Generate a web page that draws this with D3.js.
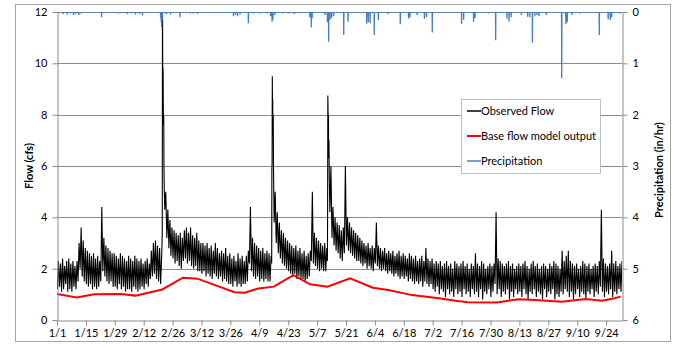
<!DOCTYPE html>
<html>
<head>
<meta charset="utf-8">
<script src="https://cdn.jsdelivr.net/npm/d3@7"></script>
<style>
  html, body { margin: 0; padding: 0; background: #fff; }
  svg { display: block; font-family: Lato, "Open Sans", "Liberation Sans", sans-serif; }
</style>
</head>
<body>
<svg id="chart" width="675" height="347"></svg>
<script>
// ---------------- DATA ----------------
const tickLabels = ["1/1","1/15","1/29","2/12","2/26","3/12","3/26","4/9","4/23","5/7","5/21","6/4","6/18","7/2","7/16","7/30","8/13","8/27","9/10","9/24"];
const flowTicks = [0, 2, 4, 6, 8, 10, 12];
const precipTicks = [0, 1, 2, 3, 4, 5, 6];
const seriesNames = ["Observed Flow", "Base flow model output", "Precipitation"];

// Observed flow: daily high / low of the diurnal cycle (cfs), day 0 = Jan 1
const obsHigh = [
  2.3,2.2,2.4,2.1,2.3,2.4,2.2,
  2.3,2.1,2.3,3.0,3.6,3.1,2.8,
  2.7,2.6,2.5,2.6,2.4,2.5,2.3,
  4.4,3.2,2.9,2.8,2.7,2.6,2.6,
  2.5,2.4,2.6,2.5,2.4,2.3,2.5,
  2.4,2.3,2.5,2.4,2.3,2.4,2.2,
  2.3,2.4,2.2,2.7,3.0,3.1,2.9,
  2.8,2.5,9.0,5.0,4.3,3.9,3.6,
  3.5,3.4,3.3,3.4,3.2,3.5,3.6,
  3.4,3.6,3.3,3.2,3.4,3.1,3.0,
  3.0,2.9,3.0,2.8,2.9,2.7,3.0,
  2.8,2.6,2.7,2.6,2.8,2.5,2.6,
  2.4,2.5,2.3,2.6,2.4,2.5,2.3,
  2.5,2.7,4.4,3.2,3.0,2.9,2.8,
  2.7,2.8,2.6,2.7,2.6,2.5,9.0,
  5.0,4.2,3.8,3.5,3.4,3.2,3.1,
  3.0,2.9,2.8,2.9,2.7,2.8,2.6,
  2.7,2.5,2.6,2.7,5.0,3.4,3.2,
  3.1,3.0,2.9,3.0,2.8,8.0,6.0,
  4.4,4.0,3.8,3.7,3.5,3.6,6.0,
  4.0,3.8,3.6,3.5,3.4,3.3,3.2,
  3.1,3.0,2.9,3.0,2.8,2.9,2.8,
  3.8,2.9,2.8,2.7,2.8,2.6,2.7,
  2.6,2.7,2.5,2.6,2.7,2.5,2.6,
  2.5,2.4,2.6,2.5,2.4,2.5,2.3,
  2.4,2.5,2.3,2.8,2.4,2.3,2.4,
  2.2,2.3,2.2,2.3,2.1,2.2,2.3,
  2.1,2.2,2.0,2.3,2.2,2.1,2.2,
  2.3,2.1,2.2,2.0,2.2,2.1,2.6,
  2.2,2.1,2.3,2.2,2.0,2.1,2.2,
  2.1,2.2,4.2,2.4,2.3,2.2,2.1,
  2.2,2.3,2.1,2.2,2.0,2.1,2.2,
  2.1,2.2,2.3,2.1,2.0,2.2,2.3,
  2.1,2.2,2.0,2.1,2.2,2.1,2.0,
  2.2,2.1,2.3,2.2,2.1,2.0,2.7,
  2.3,2.5,2.7,2.3,2.2,2.1,2.2,
  2.0,2.1,2.3,2.2,2.1,2.2,2.0,
  2.1,2.2,2.1,2.3,4.3,2.4,2.2,
  2.1,2.2,2.7,2.2,2.3,2.1,2.2,
  2.3
];
const obsLow = [
  1.2,1.3,1.1,1.2,1.4,1.1,1.2,
  1.1,1.3,1.2,1.5,2.0,1.7,1.5,
  1.4,1.3,1.4,1.2,1.3,1.2,1.3,
  1.5,1.9,1.7,1.5,1.4,1.5,1.3,
  1.3,1.2,1.4,1.2,1.3,1.1,1.2,
  1.2,1.1,1.3,1.2,1.1,1.2,1.3,
  1.2,1.4,1.3,1.6,1.7,1.8,1.6,
  1.5,1.4,3.4,4.3,3.2,2.8,2.5,
  2.4,2.2,2.3,2.1,2.0,2.3,2.4,
  2.2,2.3,2.1,2.0,2.1,1.9,1.9,
  1.8,1.9,1.7,1.8,1.7,1.6,1.8,
  1.7,1.6,1.7,1.5,1.6,1.5,1.4,
  1.4,1.3,1.5,1.3,1.4,1.3,1.4,
  1.4,1.5,2.2,1.9,1.7,1.6,1.7,
  1.5,1.6,1.5,1.6,1.5,1.5,2.2,
  3.8,3.0,2.6,2.4,2.2,2.1,2.0,
  1.9,1.8,1.7,1.8,1.6,1.7,1.6,
  1.6,1.5,1.6,1.7,2.3,2.2,2.1,
  2.0,1.9,2.0,1.9,1.9,2.3,4.2,
  3.2,2.9,2.7,2.6,2.4,2.3,2.6,
  2.9,2.7,2.6,2.5,2.4,2.3,2.3,
  2.2,2.1,2.2,2.0,2.1,2.0,1.9,
  2.2,2.1,2.0,1.9,2.0,1.9,1.8,
  1.9,1.8,1.7,1.8,1.7,1.6,1.7,
  1.6,1.7,1.5,1.6,1.5,1.4,1.5,
  1.4,1.5,1.3,1.5,1.4,1.3,1.4,
  1.2,1.1,1.3,1.0,1.2,1.1,0.9,
  1.2,1.0,1.1,0.9,1.2,1.0,1.1,
  0.9,1.2,1.0,1.1,0.9,1.2,1.0,
  1.1,0.9,1.2,0.8,1.1,1.0,1.2,
  0.9,1.1,1.4,1.0,1.2,0.9,1.1,
  1.0,1.2,0.8,1.1,0.9,1.2,1.0,
  1.1,0.9,1.2,1.0,0.8,1.1,1.0,
  1.2,0.9,1.1,1.0,0.8,1.2,0.9,
  1.1,1.0,1.2,0.8,1.0,0.9,1.1,
  1.0,1.2,1.1,0.9,1.1,0.8,1.0,
  1.2,0.9,1.1,1.0,0.8,1.1,1.0,
  1.2,0.9,1.1,1.0,1.3,1.1,0.9,
  1.1,1.0,1.2,0.9,1.1,1.0,1.2,
  1.1
];
// Storm days: hourly readings that replace the daily high/low (day, cfs)
const stormDays = [51, 104, 131];
const stormPoints = [
  [51.00,3.4],[51.10,12.6],[51.20,10.0],[51.30,9.4],[51.40,9.8],[51.50,8.2],[51.60,7.6],[51.70,8.0],[51.82,6.0],[51.95,5.2],
  [104.00,2.2],[104.10,5.9],[104.20,6.1],[104.30,9.5],[104.40,8.2],[104.50,8.6],[104.60,7.2],[104.75,8.0],[104.90,5.8],
  [131.00,2.3],[131.10,4.5],[131.20,8.75],[131.30,8.2],[131.40,7.0],[131.50,8.0],[131.60,6.3],[131.75,7.0],[131.90,5.6]
];

// Base flow model output (day, cfs)
const baseDays =  [0, 9.5, 18, 31, 38, 51, 61, 68, 86, 91, 97.5, 105, 114.5, 122.6, 131, 142, 153, 160.5, 172, 185, 193, 199, 213, 223.5, 231.6, 244.5, 256, 264, 270, 273];
const baseFlow =  [1.01,0.88,1.0,1.01,0.95,1.19,1.65,1.61,1.08,1.06,1.23,1.30,1.75,1.39,1.30,1.62,1.26,1.17,0.97,0.85,0.75,0.69,0.68,0.81,0.78,0.71,0.82,0.75,0.85,0.91];

// Precipitation events (day, in/hr)
const precipDays = [3,5,6.5,8,9,10.6,11.5,21.6,29,30.5,34,36,38,40,41.4,50.2,50.5,50.7,51.0,53,55,59.6,64.5,66,68,85.5,86.5,87.5,88.7,92.7,95,98,101.7,103.5,104.2,104.6,105.5,109.6,112,115,117.7,122.5,123.2,123.6,129.8,131.0,131.6,132.2,133,134,138.9,141,150,150.8,151.7,153.7,155.7,160.5,166.3,170.3,171,174.5,178,179,181.8,196,197,201.8,202.5,209,212.5,218,219,220,225,228,229,230.3,231.5,232.5,233.5,237,244.5,246.5,247.2,249.5,253.5,262.7,267,268,268.7,272.5];
const precipVals = [0.04,0.05,0.03,0.06,0.04,0.06,0.03,0.1,0.03,0.03,0.04,0.03,0.05,0.04,0.07,0.12,0.2,0.29,0.15,0.04,0.05,0.1,0.03,0.03,0.04,0.08,0.06,0.08,0.05,0.22,0.03,0.03,0.03,0.08,0.19,0.15,0.06,0.03,0.03,0.04,0.02,0.1,0.3,0.12,0.06,0.2,0.58,0.15,0.12,0.08,0.45,0.19,0.23,0.2,0.22,0.45,0.16,0.04,0.24,0.13,0.1,0.06,0.13,0.1,0.4,0.23,0.15,0.19,0.12,0.03,0.55,0.13,0.19,0.1,0.06,0.09,0.1,0.6,0.08,0.06,0.08,0.06,1.29,0.24,0.2,0.06,0.03,0.45,0.14,0.16,0.1,0.03];

// ---------------- CHART ----------------
const svg = d3.select("#chart");
const plot = { left: 57, right: 622, top: 12, bottom: 320 };
const gridColor = "#8c8c8c";
const flowColor = "#000000", baseColor = "#ff0000", precipColor = "#4a7ebb";

const parseMD = d3.utcParse("%m/%d");
const dayOf = s => { const d = parseMD(s); return d3.utcDay.count(d3.utcYear(d), d); };
const nDays = Math.min(obsHigh.length, obsLow.length);

const x = d3.scaleLinear().domain([0, 273.7]).range([plot.left, plot.right]);
const yL = d3.scaleLinear().domain([0, 12]).range([plot.bottom, plot.top]);
const yR = d3.scaleLinear().domain([0, 6]).range([plot.top, plot.bottom]);

// outer border
svg.append("rect").attr("x", 15.5).attr("y", 4.5).attr("width", 655).attr("height", 337)
  .attr("fill", "#fff").attr("stroke", "#a6a6a6").attr("stroke-width", 1);

// gridlines
svg.append("g").selectAll("line").data(flowTicks.filter(t => t > 0)).join("line")
  .attr("x1", plot.left).attr("x2", plot.right)
  .attr("y1", d => Math.round(yL(d)) + 0.5).attr("y2", d => Math.round(yL(d)) + 0.5)
  .attr("stroke", gridColor).attr("stroke-width", 1);

// clip
svg.append("clipPath").attr("id", "clip").append("rect")
  .attr("x", plot.left).attr("y", plot.top).attr("width", plot.right - plot.left).attr("height", plot.bottom - plot.top);

// observed flow
const stormSet = new Set(stormDays);
let obsPts = [];
for (let d = 0; d < nDays; d++) {
  if (stormSet.has(d)) continue;
  obsPts.push([d + 0.2, obsLow[d]]);
  obsPts.push([d + 0.7, obsHigh[d]]);
}
obsPts = obsPts.concat(stormPoints).sort((a, b) => a[0] - b[0]);
const lineL = d3.line().x(d => x(d[0])).y(d => yL(d[1]));
svg.append("path").attr("clip-path", "url(#clip)").datum(obsPts)
  .attr("d", lineL).attr("fill", "none").attr("stroke", flowColor).attr("stroke-width", 1.1);

// base flow
const basePts = baseDays.map((d, i) => [d, baseFlow[i]]);
svg.append("path").attr("clip-path", "url(#clip)").datum(basePts)
  .attr("d", lineL).attr("fill", "none").attr("stroke", baseColor).attr("stroke-width", 2);

// precipitation (secondary, inverted axis)
let pPts = [[0, 0]];
precipDays.forEach((d, i) => { pPts.push([d - 0.08, 0], [d, precipVals[i]], [d + 0.08, 0]); });
pPts.push([273.7, 0]);
svg.append("path").attr("clip-path", "url(#clip)").datum(pPts)
  .attr("d", d3.line().x(d => x(d[0])).y(d => yR(d[1])))
  .attr("fill", "none").attr("stroke", precipColor).attr("stroke-width", 1.3);

// axes
function styleAxis(g) {
  g.selectAll(".domain").attr("stroke", gridColor);
  g.selectAll(".tick line").attr("stroke", gridColor);
  g.selectAll(".tick text").attr("fill", "#000").style("font-size", "11px")
    .style("font-family", 'Lato, "Open Sans", sans-serif');
}
svg.append("g").attr("transform", `translate(${plot.left + 0.5},0)`)
  .call(d3.axisLeft(yL).tickValues(flowTicks).tickFormat(d3.format("d")).tickSize(5).tickSizeOuter(0).tickPadding(5))
  .call(styleAxis);
svg.append("g").attr("transform", `translate(${plot.right + 0.5},0)`)
  .call(d3.axisRight(yR).tickValues(precipTicks).tickFormat(d3.format("d")).tickSize(5).tickSizeOuter(0).tickPadding(5))
  .call(styleAxis);
const xTickDays = tickLabels.map(dayOf);
svg.append("g").attr("transform", `translate(0,${plot.bottom + 0.5})`)
  .call(d3.axisBottom(x).tickValues(xTickDays).tickFormat((d, i) => tickLabels[i])
    .tickSize(5).tickSizeOuter(0).tickPadding(4))
  .call(styleAxis);

// axis titles
svg.append("text").attr("transform", `translate(29,${(plot.top + plot.bottom) / 2}) rotate(-90)`)
  .attr("text-anchor", "middle").attr("dy", "0.35em")
  .style("font-size", "11px").style("font-weight", "bold").text("Flow (cfs)");
svg.append("text").attr("transform", `translate(659,${(plot.top + plot.bottom) / 2 + 4}) rotate(-90)`)
  .attr("text-anchor", "middle").attr("dy", "0.35em")
  .style("font-size", "11px").style("font-weight", "bold").text("Precipitation (in/hr)");

// legend
const lg = svg.append("g");
lg.append("rect").attr("x", 461.5).attr("y", 99.5).attr("width", 139).attr("height", 74)
  .attr("fill", "#fff").attr("stroke", "#c0c0c0");
const legColors = [flowColor, baseColor, precipColor];
seriesNames.forEach((name, i) => {
  const yy = 111 + i * 25;
  lg.append("line").attr("x1", 467).attr("x2", 481).attr("y1", yy).attr("y2", yy)
    .attr("stroke", legColors[i]).attr("stroke-width", i === 1 ? 2 : 1.5);
  lg.append("text").attr("x", 481).attr("y", yy).attr("dy", "0.35em")
    .style("font-size", "11px").text(name);
});
</script>
</body>
</html>
